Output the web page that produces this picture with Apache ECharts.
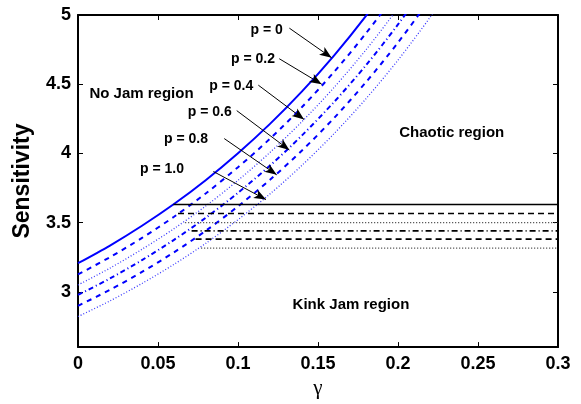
<!DOCTYPE html>
<html><head><meta charset="utf-8">
<script src="https://cdn.jsdelivr.net/npm/echarts@6/dist/echarts.min.js"></script>
<style>html,body{margin:0;padding:0;background:#fff}#c{width:581px;height:404px}</style>
</head><body><div id="c"></div>
<script>
// gamma sample positions
const gammaPts = [0, 0.02, 0.04, 0.06, 0.08, 0.10, 0.12, 0.14, 0.16, 0.18, 0.20, 0.22, 0.24];
// boundary curves (No Jam / chaotic)
const curveP00 = [3.206, 3.334, 3.477, 3.634, 3.808, 4.001, 4.213, 4.448, 4.707, 4.994, 5.311, 5.662, 6.05];
const curveP02 = [3.125, 3.250, 3.389, 3.542, 3.712, 3.900, 4.106, 4.335, 4.588, 4.868, 5.177, 5.519, 5.9];
const curveP04 = [3.049, 3.171, 3.307, 3.456, 3.621, 3.805, 4.007, 4.230, 4.476, 4.749, 5.051, 5.385, 5.75];
const curveP06 = [2.977, 3.096, 3.229, 3.375, 3.536, 3.715, 3.912, 4.130, 4.371, 4.637, 4.932, 5.258, 5.62];
const curveP08 = [2.898, 3.014, 3.143, 3.285, 3.442, 3.617, 3.809, 4.021, 4.255, 4.515, 4.801, 5.118, 5.47];
const curveP10 = [2.821, 2.934, 3.060, 3.198, 3.351, 3.521, 3.707, 3.914, 4.142, 4.395, 4.674, 4.983, 5.323];
// kink-jam boundaries (horizontal): start gamma and level
const flatStart = [0.0596, 0.0625, 0.067, 0.071, 0.0735, 0.077];
const flatLevel = [3.63, 3.565, 3.50, 3.44, 3.38, 3.315];
const flatEnd = 0.3;
// annotations
const pLabels = ['p = 0', 'p = 0.2', 'p = 0.4', 'p = 0.6', 'p = 0.8', 'p = 1.0'];
const pLabelPos = [[0.1179, 4.893], [0.1094, 4.679], [0.0958, 4.484], [0.0823, 4.298], [0.0675, 4.10], [0.0525, 3.886]];
const arrowFrom = [[0.1321, 4.905], [0.1258, 4.684], [0.1127, 4.493], [0.0992, 4.309], [0.0914, 4.107], [0.0846, 3.869]];
const arrowTo = [[0.1585, 4.691], [0.1523, 4.50], [0.1413, 4.245], [0.1321, 4.024], [0.1242, 3.845], [0.1175, 3.666]];
const regionNames = ['No Jam region', 'Chaotic region', 'Kink Jam region'];
const regionPos = [[0.0397, 4.429], [0.2336, 4.15], [0.1706, 2.907]];
const yTicks = [3, 3.5, 4, 4.5, 5];

const curves = [curveP00, curveP02, curveP04, curveP06, curveP08, curveP10];
const blueStyles = [
  {type: 'solid', width: 2, color: '#0000ff'},
  {type: [5, 5], width: 2, color: '#0000ff'},
  {type: [1, 2], width: 1.3, color: '#3a3aff'},
  {type: [5, 3, 1, 3], width: 2, color: '#0000ff'},
  {type: [5, 5], width: 2, color: '#0000ff'},
  {type: [1, 2], width: 1.3, color: '#3a3aff'}
];
const blackStyles = [
  {type: 'solid', width: 1.6, color: '#000'},
  {type: [6, 4], width: 1.6, color: '#000'},
  {type: [1, 2], width: 1.2, color: '#333'},
  {type: [6, 3, 1, 3], width: 1.6, color: '#000'},
  {type: [6, 4], width: 1.6, color: '#000'},
  {type: [1, 2], width: 1.2, color: '#333'}
];

const series = [];
curves.forEach((c, i) => {
  series.push({
    type: 'line', data: gammaPts.map((g, k) => [g, c[k]]), smooth: 0.3,
    showSymbol: false, symbol: 'none', clip: true, lineStyle: blueStyles[i], silent: true, z: 3
  });
});
flatLevel.forEach((lv, i) => {
  series.push({
    type: 'line', data: [[flatStart[i], lv], [flatEnd, lv]], showSymbol: false, symbol: 'none',
    lineStyle: blackStyles[i], silent: true, z: 4
  });
});
series.push({
  type: 'line', data: [], silent: true,
  markLine: {
    silent: true, symbol: ['none', 'arrow'], symbolSize: [7, 12], animation: false,
    lineStyle: {color: '#000', width: 1, type: 'solid'}, label: {show: false},
    data: arrowFrom.map((f, i) => [{coord: f}, {coord: arrowTo[i]}])
  }
});
const labelBase = {show: true, position: 'inside', formatter: '{b}', color: '#000', fontWeight: 'bold',
  textBorderWidth: 0, opacity: 1, fontFamily: 'Liberation Sans, Arial, sans-serif'};
series.push({
  type: 'scatter', symbolSize: 0, silent: true, z: 6, itemStyle: {opacity: 1},
  data: pLabels.map((t, i) => ({name: t, value: pLabelPos[i]})),
  label: Object.assign({fontSize: 14}, labelBase)
});
series.push({
  type: 'scatter', symbolSize: 0, silent: true, z: 6, itemStyle: {opacity: 1},
  data: regionNames.map((t, i) => ({name: t, value: regionPos[i]})),
  label: Object.assign({fontSize: 15}, labelBase)
});

const chart = echarts.init(document.getElementById('c'), null, {renderer: 'canvas'});
const tickFont = {color: '#000', fontWeight: 'bold', fontSize: 18, fontFamily: 'Liberation Sans, Arial, sans-serif'};
chart.setOption({
  animation: false,
  backgroundColor: '#fff',
  grid: {left: 78, right: 23, top: 15, bottom: 53, containLabel: false},
  xAxis: [{
    type: 'value', min: 0, max: 0.3, interval: 0.05, position: 'bottom',
    name: 'γ', nameLocation: 'middle', nameGap: 30,
    nameTextStyle: {color: '#000', fontSize: 21, fontFamily: 'Liberation Serif, DejaVu Serif, serif'},
    axisLine: {show: true, onZero: false, lineStyle: {color: '#000', width: 2}},
    axisTick: {show: true, inside: true, length: 5, lineStyle: {color: '#000', width: 1}},
    axisLabel: Object.assign({margin: 8}, tickFont),
    splitLine: {show: false}
  }, {
    type: 'value', min: 0, max: 0.3, interval: 0.05, position: 'top',
    axisLine: {show: true, onZero: false, lineStyle: {color: '#000', width: 2}},
    axisTick: {show: true, inside: true, length: 5, lineStyle: {color: '#000', width: 1}},
    axisLabel: {show: false}, splitLine: {show: false}
  }],
  yAxis: [{
    type: 'value', min: 2.6, max: 5, position: 'left',
    name: 'Sensitivity', nameLocation: 'middle', nameGap: 44,
    nameTextStyle: {color: '#000', fontWeight: 'bold', fontSize: 23, fontFamily: 'Liberation Sans, Arial, sans-serif'},
    axisLine: {show: true, onZero: false, lineStyle: {color: '#000', width: 2}},
    axisTick: {show: true, inside: true, length: 5, customValues: yTicks, lineStyle: {color: '#000', width: 1}},
    axisLabel: Object.assign({margin: 7, customValues: yTicks}, tickFont),
    splitLine: {show: false}
  }, {
    type: 'value', min: 2.6, max: 5, position: 'right',
    axisLine: {show: true, onZero: false, lineStyle: {color: '#000', width: 2}},
    axisTick: {show: true, inside: true, length: 5, customValues: yTicks, lineStyle: {color: '#000', width: 1}},
    axisLabel: {show: false}, splitLine: {show: false}
  }],
  series: series
});
</script></body></html>
